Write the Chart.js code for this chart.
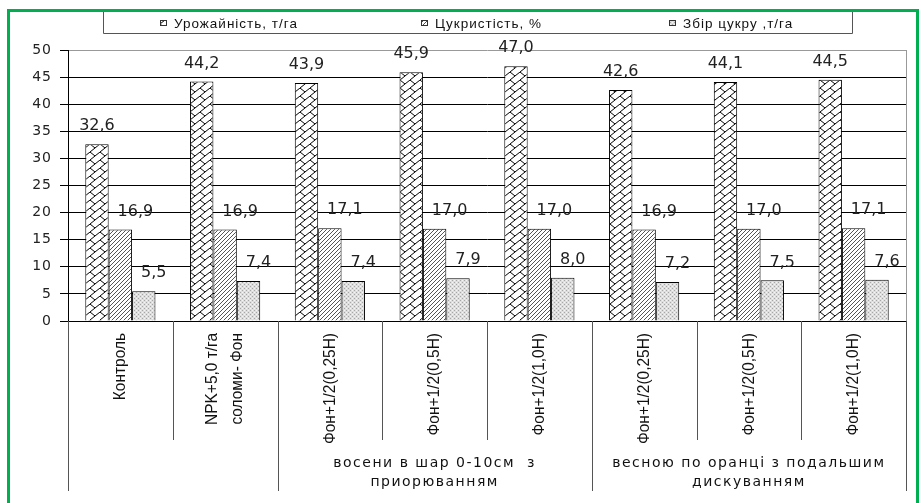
<!DOCTYPE html>
<html>
<head>
<meta charset="utf-8">
<script src="https://cdn.jsdelivr.net/npm/chart.js@4.4.1/dist/chart.umd.min.js"></script>
<style>
  html, body { margin: 0; padding: 0; background: #fff; }
  canvas { display: block; }
</style>
</head>
<body>
<canvas id="chart" width="921" height="503"></canvas>
<script>
// --- data ---
const categories = [
  'Контроль',
  ['NPK+5,0 т/га', 'соломи- Фон'],
  'Фон+1/2(0,25Н)', 'Фон+1/2(0,5Н)', 'Фон+1/2(1,0Н)',
  'Фон+1/2(0,25Н)', 'Фон+1/2(0,5Н)', 'Фон+1/2(1,0Н)'
];
const seriesNames = ['Урожайність, т/га', 'Цукристість, %', 'Збір цукру ,т/га'];
const yieldValues  = [32.6, 44.2, 43.9, 45.9, 47.0, 42.6, 44.1, 44.5];
const sugarContent = [16.9, 16.9, 17.1, 17.0, 17.0, 16.9, 17.0, 17.1];
const sugarYield   = [5.5, 7.4, 7.4, 7.9, 8.0, 7.2, 7.5, 7.6];
const yMin = 0, yMax = 50, yStep = 5;
const groupNames = [
  ['восени в шар 0-10см  з', 'приорюванням'],
  ['весною по оранці з подальшим', 'дискуванням']
];
const groupRanges = [[2, 4], [5, 7]];

const canvas = document.getElementById('chart');
const ctx = canvas.getContext('2d');

function makePattern(w, h, bg, draw) {
  const c = document.createElement('canvas');
  c.width = w; c.height = h;
  const g = c.getContext('2d');
  g.fillStyle = bg; g.fillRect(0, 0, w, h);
  draw(g);
  return ctx.createPattern(c, 'repeat');
}
// zig-zag brick for yield
const patBrick = makePattern(10, 8, '#fff', g => {
  g.strokeStyle = '#000'; g.lineWidth = 1;
  g.beginPath();
  g.moveTo(0, 8); g.lineTo(10, 0);
  g.moveTo(0, 0); g.lineTo(5, 4);
  g.stroke();
});
// fine diagonal hatch for sugar content
const patHatch = makePattern(4, 4, '#fff', g => {
  g.strokeStyle = '#555'; g.lineWidth = 1;
  g.beginPath();
  g.moveTo(0, 4); g.lineTo(4, 0);
  g.moveTo(-1, 1); g.lineTo(1, -1);
  g.moveTo(3, 5); g.lineTo(5, 3);
  g.stroke();
});
// grey dots for sugar yield
const patDots = makePattern(4, 4, '#dedede', g => {
  g.fillStyle = '#a6a6a6';
  g.fillRect(0, 0, 1, 1); g.fillRect(2, 2, 1, 1);
  g.fillStyle = '#f4f4f4';
  g.fillRect(2, 0, 1, 1); g.fillRect(0, 2, 1, 1);
});
const fills = [patBrick, patHatch, patDots];
const labelShift = [0, 15, 10];

const fmt = v => v.toFixed(1).replace('.', ',');

const decor = {
  id: 'decor',
  beforeDraw(chart) { chart.ctx.letterSpacing = '1px'; },
  afterDraw(chart) {
    const c = chart.ctx;
    const xs = chart.scales.x;
    const area = chart.chartArea;
    c.save();

    // plot right border
    c.strokeStyle = '#999'; c.lineWidth = 1;
    c.beginPath(); c.moveTo(area.right + 0.5, area.top); c.lineTo(area.right + 0.5, area.bottom); c.stroke();

    // data labels
    c.fillStyle = '#222';
    c.font = '16px "DejaVu Sans"';
    c.letterSpacing = '0px';
    c.textAlign = 'center'; c.textBaseline = 'middle';
    chart.data.datasets.forEach((ds, i) => {
      chart.getDatasetMeta(i).data.forEach((bar, j) => {
        c.fillText(fmt(ds.data[j]), bar.x + labelShift[i], bar.y - 18);
      });
    });

    // category dividers
    const n = categories.length;
    const half = (xs.getPixelForValue(1) - xs.getPixelForValue(0)) / 2;
    const bound = k => k < n ? xs.getPixelForValue(k) - half : xs.getPixelForValue(n - 1) + half;
    const deep = new Set([0, n]);
    groupRanges.forEach(r => { deep.add(r[0]); deep.add(r[1] + 1); });
    c.strokeStyle = '#555'; c.lineWidth = 1;
    for (let k = 0; k <= n; k++) {
      const bx = Math.round(bound(k)) + 0.5;
      c.beginPath();
      c.moveTo(bx, area.bottom);
      c.lineTo(bx, deep.has(k) ? 491 : 440);
      c.stroke();
    }

    // rotated category labels (condensed)
    c.fillStyle = '#111';
    c.font = '17px "Liberation Sans", sans-serif';
    c.letterSpacing = '0px';
    c.textAlign = 'right'; c.textBaseline = 'middle';
    categories.forEach((lab, i) => {
      const lines = Array.isArray(lab) ? lab : [lab];
      const cx = xs.getPixelForValue(i);
      lines.forEach((t, li) => {
        const off = (li - (lines.length - 1) / 2) * 25;
        c.save();
        c.translate(cx + off, 333);
        c.rotate(-Math.PI / 2);
        c.scale(0.91, 1);
        c.fillText(t, 0, 0);
        c.restore();
      });
    });

    // group labels
    c.font = '14px "DejaVu Sans"';
    c.letterSpacing = '1.5px';
    c.textAlign = 'center';
    groupRanges.forEach((r, gi) => {
      const cx = (bound(r[0]) + bound(r[1] + 1)) / 2;
      groupNames[gi].forEach((t, li) => c.fillText(t, cx, 463 + li * 19));
    });

    // legend
    c.strokeStyle = '#555';
    c.beginPath();
    c.moveTo(103.5, 10); c.lineTo(103.5, 33.5); c.lineTo(852.5, 33.5); c.lineTo(852.5, 10);
    c.stroke();
    const legX = [160, 421, 669];
    c.font = '13.5px "Liberation Sans"';
    c.letterSpacing = '1px';
    c.textAlign = 'left';
    chart.data.datasets.forEach((ds, i) => {
      c.fillStyle = ds.backgroundColor;
      c.fillRect(legX[i], 20, 7, 6);
      c.strokeStyle = '#333';
      c.strokeRect(legX[i] + 0.5, 20.5, 6, 5);
      c.fillStyle = '#111';
      c.fillText(ds.label, legX[i] + 14, 24);
    });

    // green frame
    c.strokeStyle = 'rgb(0,176,80)'; c.lineWidth = 3;
    c.strokeRect(8.5, 10.5, 909, 600);
    c.restore();
  }
};

new Chart(ctx, {
  type: 'bar',
  data: {
    labels: categories,
    datasets: [yieldValues, sugarContent, sugarYield].map((d, i) => ({
      label: seriesNames[i],
      data: d,
      backgroundColor: fills[i],
      borderColor: '#000',
      borderWidth: 1,
      categoryPercentage: 0.67,
      barPercentage: 1
    }))
  },
  options: {
    responsive: false,
    animation: false,
    devicePixelRatio: 1,
    layout: { padding: { top: 50, right: 15, left: 0, bottom: 0 } },
    plugins: { legend: { display: false }, tooltip: { enabled: false } },
    scales: {
      x: {
        ticks: { display: false },
        grid: { display: false },
        border: { display: false },
        afterFit: s => { s.height = 182; }
      },
      y: {
        min: yMin, max: yMax,
        ticks: { stepSize: yStep, color: '#222', padding: 8, font: { family: 'DejaVu Sans', size: 14 } },
        grid: {
          color: t => t.tick && t.tick.value === yMax ? '#999' : '#000',
          tickColor: '#000', tickLength: 8
        },
        border: { color: '#000' },
        afterFit: s => { s.width = 68; }
      }
    }
  },
  plugins: [decor]
});
</script>
</body>
</html>
